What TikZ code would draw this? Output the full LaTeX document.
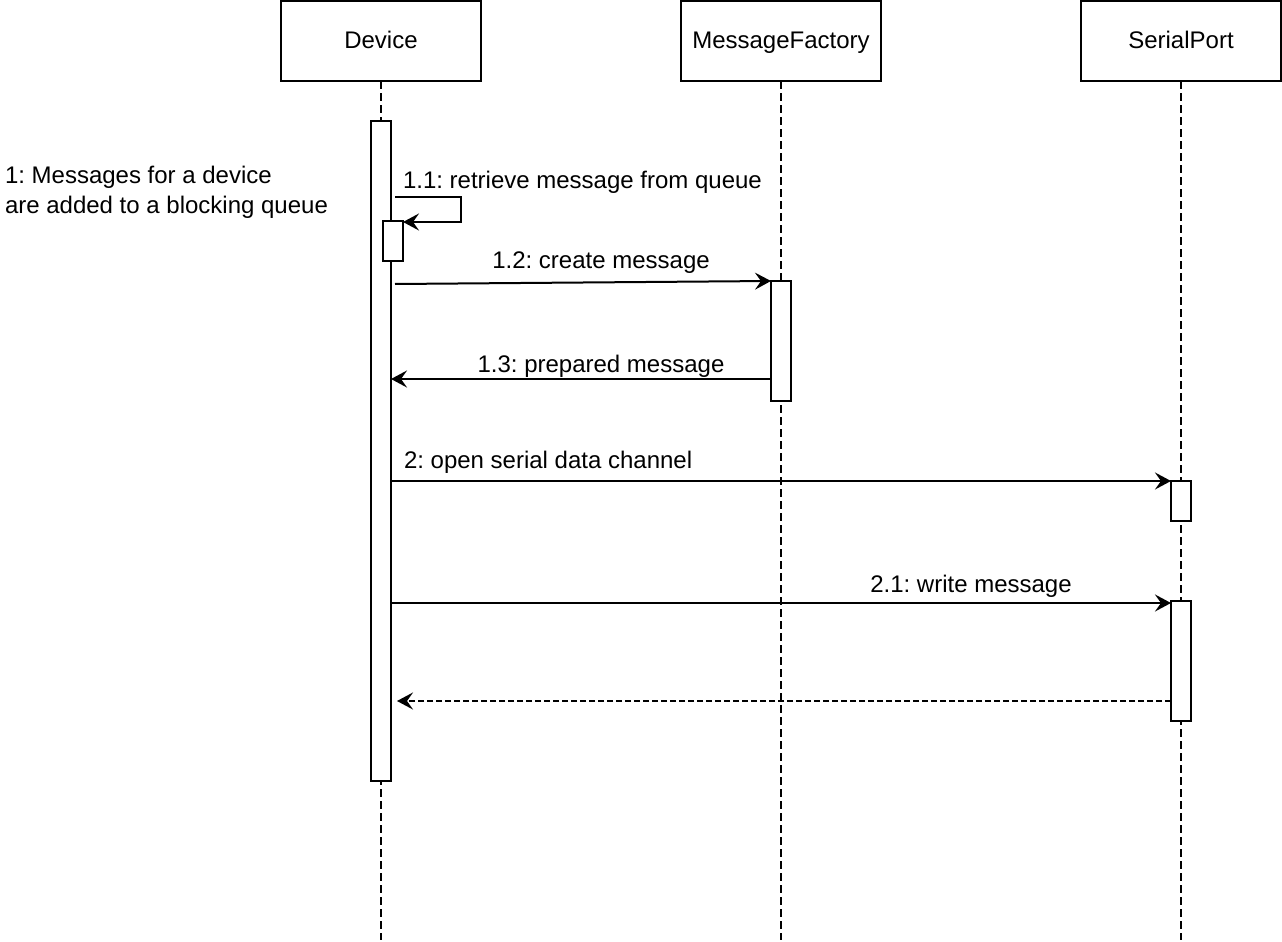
\documentclass[tikz,border=0pt]{standalone}
\usepackage{fontspec}
\setmainfont{Liberation Sans}
\usepackage{tikz}
\usetikzlibrary{arrows.meta, positioning}
\frenchspacing

\begin{document}
\begin{tikzpicture}[
  x=0.5pt, y=-0.5pt,
  font=\fontsize{12}{15}\selectfont,
  line width=1pt,
  head/.style={draw, minimum width=100pt, minimum height=40pt,
               inner sep=0pt, outer sep=0pt, text height=10pt, text depth=2.5pt},
  lifeline/.style={dash pattern=on 4pt off 2pt},
  act/.style={draw, fill=white, minimum width=10pt, inner sep=0pt,
              outer sep=0pt, anchor=north},
  msg/.style={-{Stealth[length=8pt, width=8.5pt, inset=3pt]}},
  ret/.style={msg, dash pattern=on 3pt off 1.5pt},
  lbl/.style={inner sep=0pt}
]
  \useasboundingbox (0,0) rectangle (1282,942);

  % Lifeline heads
  \node[head] (dev) at (381,41) {Device};
  \node[head, right=100pt of dev] (mf) {MessageFactory};
  \node[head, right=100pt of mf] (sp) {SerialPort};

  % Lifelines
  \coordinate (bottom) at (0,940);
  \draw[lifeline] (dev.south) -- (dev.south |- bottom);
  \draw[lifeline] (mf.south) -- (mf.south |- bottom);
  \draw[lifeline] (sp.south) -- (sp.south |- bottom);

  % Activation bars
  \node[act, minimum height=330pt] (devact) at (381,121) {};
  \node[act, minimum height=20pt] (nest) at (393,221) {};
  \node[act, minimum height=60pt] (mfact) at (781,281) {};
  \node[act, minimum height=20pt] (spact1) at (1181,481) {};
  \node[act, minimum height=60pt] (spact2) at (1181,601) {};

  % Note
  \node[lbl, align=left, anchor=base west] (note) at (4,213)
    {1: Messages for a device\\are added to a blocking queue};

  % Messages
  \coordinate (c11) at ([xshift=2pt, yshift=-38pt]devact.north east);
  \draw[msg] (c11) -- ++(66,0) |- ([yshift=-0.5pt]nest.north east);
  \node[lbl, anchor=base west] (l11) at (402,188) {1.1: retrieve message from queue};

  \coordinate (c12) at ([xshift=2pt, yshift=-81.5pt]devact.north east);
  \draw[msg] (c12) -- (mfact.north west);
  \node[lbl, anchor=base] (l12) at (601,268) {1.2: create message};

  \coordinate (c13) at ([yshift=11pt]mfact.south west);
  \draw[msg] (c13) -- (c13 -| devact.east);
  \node[lbl, anchor=base] (l13) at (601,372) {1.3: prepared message};

  \draw[msg] (spact1.north west -| devact.east) -- (spact1.north west);
  \node[lbl, anchor=base west] (l2) at (403,468) {2: open serial data channel};

  \coordinate (c21) at ([yshift=-1pt]spact2.north west);
  \draw[msg] (c21 -| devact.east) -- (c21);
  \node[lbl, anchor=base] (l21) at (971,592) {2.1: write message};

  \coordinate (c22) at ([yshift=10pt]spact2.south west);
  \draw[ret, shorten >=3pt] (c22) -- (c22 -| devact.east);
\end{tikzpicture}
\end{document}
